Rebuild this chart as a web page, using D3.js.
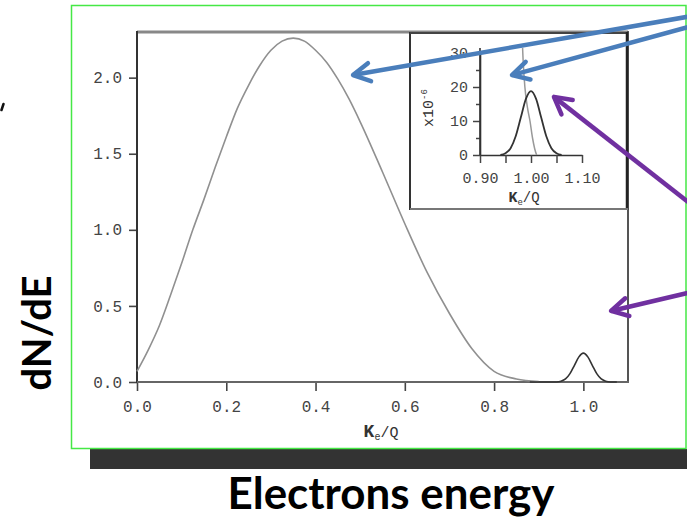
<!DOCTYPE html>
<html><head><meta charset="utf-8">
<script src="https://cdn.jsdelivr.net/npm/d3@7"></script>
<style>html,body{margin:0;padding:0;background:#fff;} svg{display:block}</style>
</head><body>
<svg id="c" width="687" height="518"></svg>
<script>
// ---- data ----
const twoNuX = [0,0.025,0.05,0.075,0.1,0.125,0.15,0.175,0.2,0.225,0.25,0.275,0.3,0.325,0.35,0.375,0.4,0.425,0.45,0.475,0.5,0.55,0.6,0.65,0.7,0.75,0.8,0.85,0.9];
const twoNuY = [0.07,0.21,0.37,0.57,0.78,1.0,1.2,1.41,1.61,1.8,1.95,2.08,2.18,2.24,2.26,2.24,2.18,2.10,1.99,1.86,1.71,1.38,1.04,0.72,0.45,0.22,0.07,0.02,0.003];
const zeroNuX = [0.88,0.94,0.95,0.96,0.97,0.98,0.99,1.0,1.01,1.02,1.03,1.04,1.05,1.06,1.075];
const zeroNuY = [0,0,0.005,0.02,0.055,0.11,0.165,0.19,0.165,0.11,0.055,0.02,0.005,0,0];
const insetZeroNuX = [0.94,0.95,0.96,0.97,0.98,0.99,1.0,1.01,1.02,1.03,1.04,1.05,1.06];
const insetZeroNuY = [0,0.5,2,5.5,11,16.5,18.8,16.5,11,5.5,2,0.5,0];
const insetTwoNuX = [0.9835,0.9845,0.988,0.993,0.998,1.003,1.007,1.011];
const insetTwoNuY = [31.5,28,20,14,10,5,2,0];
const xTicks = [0,0.2,0.4,0.6,0.8,1.0];
const yTicks = [0,0.5,1.0,1.5,2.0];
const insetXTicks = [0.9,0.95,1.0,1.05,1.1];
const insetXLabels = [0.9,1.0,1.1];
const insetYTicks = [0,5,10,15,20,25,30];
const insetYLabels = [0,10,20,30];

const svg = d3.select("#c");
const mono = "'Liberation Mono','DejaVu Sans Mono',monospace";
const tickCol = "#444";

// background slide elements
svg.append("rect").attr("x",90).attr("y",449).attr("width",597).attr("height",20).attr("fill","#333");
svg.append("rect").attr("x",71.5).attr("y",5.5).attr("width",614.5).attr("height",443)
  .attr("fill","none").attr("stroke","#45e845").attr("stroke-width",1.5);
svg.append("path").attr("d","M1.5,110 L3.5,104").attr("stroke","#111").attr("stroke-width",2.5).attr("stroke-linecap","round");

// ---- main plot ----
const x = d3.scaleLinear().domain([0,1.1]).range([137,628]);
const y = d3.scaleLinear().domain([0,2.3]).range([382,32]);

const gx = svg.append("g").attr("transform","translate(0,382)")
  .call(d3.axisBottom(x).tickValues(xTicks).tickFormat(d=>d.toFixed(1)).tickSize(9).tickSizeOuter(0).tickPadding(10));
const gy = svg.append("g").attr("transform","translate(137,0)")
  .call(d3.axisLeft(y).tickValues(yTicks).tickFormat(d=>d.toFixed(1)).tickSize(8).tickSizeOuter(0).tickPadding(7));
[gx,gy].forEach(g=>{
  g.select(".domain").remove();
  g.selectAll(".tick line").attr("stroke","#444").attr("stroke-width",1.6);
  g.selectAll(".tick text").attr("font-family",mono).attr("font-size",16).attr("fill",tickCol);
});
// box
svg.append("line").attr("x1",137).attr("x2",628).attr("y1",32).attr("y2",32).attr("stroke","#888").attr("stroke-width",3);
svg.append("line").attr("x1",137).attr("x2",137).attr("y1",31).attr("y2",383).attr("stroke","#333").attr("stroke-width",2);
svg.append("line").attr("x1",628).attr("x2",628).attr("y1",31).attr("y2",383).attr("stroke","#555").attr("stroke-width",2);
svg.append("line").attr("x1",137).attr("x2",629).attr("y1",382).attr("y2",382).attr("stroke","#666").attr("stroke-width",2);

const line = d3.line().x(d=>x(d[0])).y(d=>y(d[1])).curve(d3.curveMonotoneX);
svg.append("path").datum(twoNuX.map((v,i)=>[v,twoNuY[i]])).attr("d",line)
  .attr("fill","none").attr("stroke","#909090").attr("stroke-width",1.6);
svg.append("path").datum(zeroNuX.map((v,i)=>[v,zeroNuY[i]])).attr("d",line)
  .attr("fill","none").attr("stroke","#333").attr("stroke-width",1.6);

function keq(g, cx, cy, kSize, sSize, rSize){
  const t = g.append("text").attr("x",cx).attr("y",cy).attr("text-anchor","middle")
    .attr("font-family",mono).attr("fill","#333");
  t.append("tspan").text("K").attr("font-size",kSize).attr("font-weight","bold");
  t.append("tspan").text("e").attr("font-size",sSize).attr("dy",3);
  t.append("tspan").text("/Q").attr("font-size",rSize).attr("dy",-3);
  return t;
}
keq(svg, 381, 437, 18, 10, 15);

// ---- inset ----
svg.append("rect").attr("x",410).attr("y",33).attr("width",218).attr("height",176).attr("fill","#fff");
const xi = d3.scaleLinear().domain([0.9,1.1]).range([480,582]);
const yi = d3.scaleLinear().domain([0,30]).range([155,53]);
const gxi = svg.append("g").attr("transform","translate(0,155)")
  .call(d3.axisBottom(xi).tickValues(insetXTicks).tickFormat(d=>insetXLabels.some(v=>Math.abs(v-d)<1e-9)?d.toFixed(2):"").tickSize(8).tickSizeOuter(0).tickPadding(9));
const gyi = svg.append("g").attr("transform","translate(480,0)")
  .call(d3.axisLeft(yi).tickValues(insetYTicks).tickFormat(d=>insetYLabels.includes(d)?d:"").tickSize(7).tickSizeOuter(0).tickPadding(5));
[gxi,gyi].forEach(g=>{
  g.select(".domain").attr("stroke","#333").attr("stroke-width",1.6);
  g.selectAll(".tick line").attr("stroke","#444").attr("stroke-width",1.5);
  g.selectAll(".tick text").attr("font-family",mono).attr("font-size",15).attr("fill",tickCol);
});
gyi.selectAll(".tick").filter(d=>!insetYLabels.includes(d)).select("line").attr("x2",-4);
svg.append("line").attr("x1",480).attr("x2",480).attr("y1",48).attr("y2",155).attr("stroke","#333").attr("stroke-width",1.6);

const linei = d3.line().x(d=>xi(d[0])).y(d=>yi(d[1])).curve(d3.curveMonotoneX);
svg.append("path").datum(insetTwoNuX.map((v,i)=>[v,insetTwoNuY[i]])).attr("d",linei)
  .attr("fill","none").attr("stroke","#999").attr("stroke-width",1.5);
svg.append("path").datum(insetZeroNuX.map((v,i)=>[v,insetZeroNuY[i]])).attr("d",linei)
  .attr("fill","none").attr("stroke","#333").attr("stroke-width",1.8);

keq(svg, 524, 202, 15, 9, 14);
const yl = svg.append("text").attr("transform","translate(433,108) rotate(-90)").attr("text-anchor","middle")
  .attr("font-family",mono).attr("fill","#333").attr("font-size",15);
yl.append("tspan").text("x10");
yl.append("tspan").text("-6").attr("font-size",9).attr("dy",-6);

// inset box
svg.append("line").attr("x1",410).attr("x2",410).attr("y1",32).attr("y2",210).attr("stroke","#333").attr("stroke-width",2);
svg.append("line").attr("x1",410).attr("x2",628).attr("y1",33).attr("y2",33).attr("stroke","#444").attr("stroke-width",2);
svg.append("line").attr("x1",627).attr("x2",627).attr("y1",32).attr("y2",210).attr("stroke","#222").attr("stroke-width",2.5);
svg.append("line").attr("x1",410).attr("x2",628).attr("y1",209).attr("y2",209).attr("stroke","#777").attr("stroke-width",2);

// ---- annotation arrows ----
function arrow(x1,y1,x2,y2,color){
  const a = Math.atan2(y1-y2,x1-x2), L=19, h=0.5;
  const p1=[x2+L*Math.cos(a+h), y2+L*Math.sin(a+h)], p2=[x2+L*Math.cos(a-h), y2+L*Math.sin(a-h)];
  svg.append("path").attr("d",`M${x1},${y1}L${x2},${y2}`).attr("stroke",color).attr("stroke-width",4.5).attr("fill","none");
  svg.append("path").attr("d",`M${p1[0]},${p1[1]}L${x2},${y2}L${p2[0]},${p2[1]}`).attr("stroke",color)
    .attr("stroke-width",4.5).attr("fill","none").attr("stroke-linejoin","round").attr("stroke-linecap","round");
}
const blue="#4a7ebb", purple="#7030a0";
arrow(692,16, x(0.484), y(2.017), blue);
arrow(692,26, xi(0.9627), yi(23.5), blue);
arrow(692,205, xi(1.045), yi(17.1), purple);
arrow(692,292, x(1.062), y(0.467), purple);

// ---- slide titles ----
function fit(t, w){ let s=+t.attr("font-size"); const l=t.node().getComputedTextLength(); t.attr("font-size", s*w/l); }
const t1 = svg.append("text").attr("x",391).attr("y",509).attr("text-anchor","middle")
  .attr("font-family","Lato, 'Open Sans', sans-serif").attr("font-weight","bold").attr("font-size",44).attr("fill","#000").text("Electrons energy");
fit(t1, 327);
const t2 = svg.append("text").attr("transform","translate(51,333) rotate(-90)").attr("text-anchor","middle")
  .attr("font-family","Lato, 'Open Sans', sans-serif").attr("font-weight","bold").attr("font-size",40).attr("fill","#000").text("dN/dE");
fit(t2, 115);
</script>
</body></html>
